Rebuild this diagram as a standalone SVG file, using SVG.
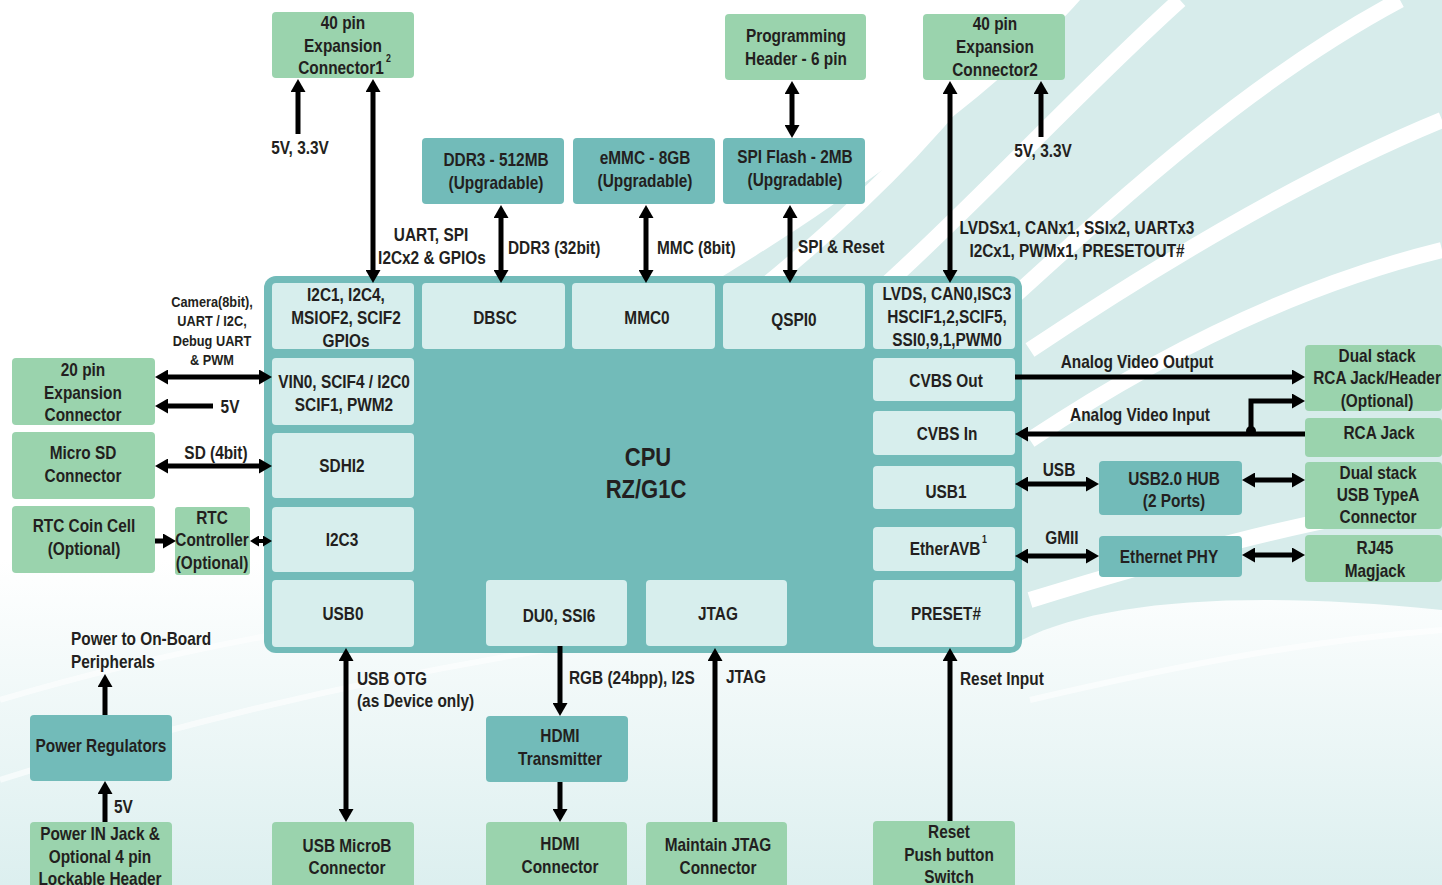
<svg xmlns="http://www.w3.org/2000/svg" width="1442" height="885" viewBox="0 0 1442 885">
<style>
.g{fill:#9ad3ad}
.t{fill:#72bbb9}
.c{fill:#d7eeed}
text{font-family:"Liberation Sans",Arial,sans-serif;font-weight:bold;fill:#231f20;font-size:17.5px;transform-box:fill-box;transform-origin:left center;transform:scaleX(0.88)}
.m{text-anchor:middle;transform-origin:center}
.s{font-size:14.5px}
.big{font-size:25px}
.sup{font-size:10px}
.w{fill:none;stroke:#000;stroke-width:5}
.ws{fill:none;stroke:#000;stroke-width:4}
</style>
<defs>
<marker id="a" markerUnits="userSpaceOnUse" markerWidth="13" markerHeight="15" viewBox="0 0 13 15" refX="1" refY="7.5" orient="auto-start-reverse"><path d="M0,0 L13,7.5 L0,15 z" fill="#000"/></marker>
<marker id="b" markerUnits="userSpaceOnUse" markerWidth="9" markerHeight="11" viewBox="0 0 9 11" refX="1" refY="5.5" orient="auto-start-reverse"><path d="M0,0 L9,5.5 L0,11 z" fill="#000"/></marker>
<linearGradient id="bg" x1="0" y1="0" x2="0" y2="1"><stop offset="0" stop-color="#ffffff"/><stop offset="1" stop-color="#dcefef"/></linearGradient>
</defs>
<g id="background">
<rect width="1442" height="885" fill="#fff"/>
<rect y="560" width="1442" height="325" fill="url(#bg)"/>
<path d="M700,290 C850,200 1000,90 1080,0 L1442,0 L1442,610 C1250,590 1100,600 1022,640 L1022,290 Z" fill="#d7eceb"/>
<g fill="none" stroke="#fff" stroke-width="16">
<path d="M760,290 C870,200 960,110 1030,0"/>
<path d="M880,290 C980,200 1080,90 1180,0"/>
<path d="M1010,300 C1120,200 1250,80 1400,0"/>
<path d="M1030,350 C1180,250 1320,170 1442,120"/>
<path d="M1030,440 C1180,340 1320,280 1442,250"/>
<path d="M1030,600 C1160,560 1300,520 1442,500"/>
</g>
<g fill="none" stroke="#fff" stroke-width="6" opacity="0.6">
<path d="M0,700 C200,640 400,610 600,590"/>
<path d="M0,780 C250,700 500,650 760,620"/>
<path d="M1030,700 C1200,660 1320,640 1442,630"/>
</g>
</g>
<g id="cpu">
<rect x="264" y="276" width="758" height="377" rx="12" class="t"/>
<text x="648" y="466" class="m big">CPU</text>
<text x="646" y="498" class="m big">RZ/G1C</text>
</g>
<g id="cell-i2c1"><rect x="272" y="283" width="142" height="66" rx="4" class="c"/><text x="346" y="301" class="m">I2C1, I2C4,</text><text x="346" y="324" class="m">MSIOF2, SCIF2</text><text x="346" y="347" class="m">GPIOs</text></g>
<g id="cell-dbsc"><rect x="422" y="283" width="143" height="66" rx="4" class="c"/><text x="495" y="324" class="m">DBSC</text></g>
<g id="cell-mmc0"><rect x="572" y="283" width="143" height="66" rx="4" class="c"/><text x="647" y="324" class="m">MMC0</text></g>
<g id="cell-qspi0"><rect x="723" y="283" width="142" height="66" rx="4" class="c"/><text x="794" y="326" class="m">QSPI0</text></g>
<g id="cell-lvds"><rect x="873" y="283" width="142" height="66" rx="4" class="c"/><text x="947" y="300" class="m">LVDS, CAN0,ISC3</text><text x="947" y="323" class="m">HSCIF1,2,SCIF5,</text><text x="947" y="346" class="m">SSI0,9,1,PWM0</text></g>
<g id="cell-vin0"><rect x="272" y="358" width="142" height="67" rx="4" class="c"/><text x="344" y="388" class="m">VIN0, SCIF4 / I2C0</text><text x="344" y="411" class="m">SCIF1, PWM2</text></g>
<g id="cell-sdhi2"><rect x="272" y="433" width="142" height="65" rx="4" class="c"/><text x="342" y="472" class="m">SDHI2</text></g>
<g id="cell-i2c3"><rect x="272" y="507" width="142" height="65" rx="4" class="c"/><text x="342" y="546" class="m">I2C3</text></g>
<g id="cell-usb0"><rect x="272" y="580" width="142" height="67" rx="4" class="c"/><text x="343" y="620" class="m">USB0</text></g>
<g id="cell-cvbsout"><rect x="873" y="358" width="142" height="43" rx="4" class="c"/><text x="946" y="387" class="m">CVBS Out</text></g>
<g id="cell-cvbsin"><rect x="873" y="411" width="142" height="44" rx="4" class="c"/><text x="947" y="440" class="m">CVBS In</text></g>
<g id="cell-usb1"><rect x="873" y="466" width="142" height="43" rx="4" class="c"/><text x="946" y="498" class="m">USB1</text></g>
<g id="cell-etheravb"><rect x="873" y="527" width="142" height="44" rx="4" class="c"/><text x="945" y="555" class="m">EtherAVB</text><text x="982" y="543" class="sup">1</text></g>
<g id="cell-preset"><rect x="873" y="580" width="142" height="67" rx="4" class="c"/><text x="946" y="620" class="m">PRESET#</text></g>
<g id="cell-du0"><rect x="486" y="580" width="141" height="66" rx="4" class="c"/><text x="559" y="622" class="m">DU0, SSI6</text></g>
<g id="cell-jtag"><rect x="646" y="580" width="141" height="66" rx="4" class="c"/><text x="718" y="620" class="m">JTAG</text></g>

<g id="conn1"><rect x="272" y="12" width="142" height="66" rx="4" class="g"/><text x="343" y="29" class="m">40 pin</text><text x="343" y="52" class="m">Expansion</text><text x="341" y="74" class="m">Connector1</text><text x="386" y="62" class="sup">2</text></g>
<g id="prog"><rect x="725" y="14" width="141" height="66" rx="4" class="g"/><text x="796" y="42" class="m">Programming</text><text x="796" y="65" class="m">Header - 6 pin</text></g>
<g id="conn2"><rect x="923" y="14" width="142" height="66" rx="4" class="g"/><text x="995" y="30" class="m">40 pin</text><text x="995" y="53" class="m">Expansion</text><text x="995" y="76" class="m">Connector2</text></g>
<g id="ddr3"><rect x="422" y="138" width="142" height="66" rx="4" class="t"/><text x="496" y="166" class="m">DDR3 - 512MB</text><text x="496" y="189" class="m">(Upgradable)</text></g>
<g id="emmc"><rect x="573" y="138" width="142" height="66" rx="4" class="t"/><text x="645" y="164" class="m">eMMC - 8GB</text><text x="645" y="187" class="m">(Upgradable)</text></g>
<g id="spiflash"><rect x="723" y="138" width="142" height="66" rx="4" class="t"/><text x="795" y="163" class="m">SPI Flash - 2MB</text><text x="795" y="186" class="m">(Upgradable)</text></g>
<g id="exp20"><rect x="12" y="358" width="143" height="67" rx="4" class="g"/><text x="83" y="376" class="m">20 pin</text><text x="83" y="399" class="m">Expansion</text><text x="83" y="421" class="m">Connector</text></g>
<g id="microsd"><rect x="12" y="432" width="143" height="67" rx="4" class="g"/><text x="83" y="459" class="m">Micro SD</text><text x="83" y="482" class="m">Connector</text></g>
<g id="rtccoin"><rect x="12" y="506" width="143" height="67" rx="4" class="g"/><text x="84" y="532" class="m">RTC Coin Cell</text><text x="84" y="555" class="m">(Optional)</text></g>
<g id="rtcctrl"><rect x="175" y="507" width="75" height="68" rx="3" class="g"/><text x="212" y="524" class="m">RTC</text><text x="212" y="546" class="m">Controller</text><text x="212" y="569" class="m">(Optional)</text></g>
<g id="rca-dual"><rect x="1305" y="345" width="137" height="66" rx="4" class="g"/><text x="1377" y="362" class="m">Dual stack</text><text x="1377" y="384" class="m">RCA Jack/Header</text><text x="1377" y="407" class="m">(Optional)</text></g>
<g id="rca"><rect x="1305" y="418" width="137" height="39" rx="4" class="g"/><text x="1379" y="439" class="m">RCA Jack</text></g>
<g id="usba"><rect x="1305" y="462" width="137" height="67" rx="4" class="g"/><text x="1378" y="479" class="m">Dual stack</text><text x="1378" y="501" class="m">USB TypeA</text><text x="1378" y="523" class="m">Connector</text></g>
<g id="rj45"><rect x="1305" y="535" width="137" height="47" rx="4" class="g"/><text x="1375" y="554" class="m">RJ45</text><text x="1375" y="577" class="m">Magjack</text></g>
<g id="usbhub"><rect x="1099" y="461" width="143" height="54" rx="4" class="t"/><text x="1174" y="485" class="m">USB2.0 HUB</text><text x="1174" y="507" class="m">(2 Ports)</text></g>
<g id="ethphy"><rect x="1099" y="536" width="143" height="41" rx="4" class="t"/><text x="1169" y="563" class="m">Ethernet PHY</text></g>
<g id="powerreg"><rect x="30" y="715" width="142" height="66" rx="4" class="t"/><text x="101" y="752" class="m">Power Regulators</text></g>
<g id="powerin"><rect x="30" y="822" width="142" height="70" rx="4" class="g"/><text x="100" y="840" class="m">Power IN Jack &amp;</text><text x="100" y="863" class="m">Optional 4 pin</text><text x="100" y="885" class="m">Lockable Header</text></g>
<g id="usbmicrob"><rect x="272" y="822" width="142" height="70" rx="4" class="g"/><text x="347" y="852" class="m">USB MicroB</text><text x="347" y="874" class="m">Connector</text></g>
<g id="hdmitx"><rect x="486" y="716" width="142" height="66" rx="4" class="t"/><text x="560" y="742" class="m">HDMI</text><text x="560" y="765" class="m">Transmitter</text></g>
<g id="hdmiconn"><rect x="486" y="822" width="141" height="70" rx="4" class="g"/><text x="560" y="850" class="m">HDMI</text><text x="560" y="873" class="m">Connector</text></g>
<g id="jtagconn"><rect x="646" y="822" width="141" height="70" rx="4" class="g"/><text x="718" y="851" class="m">Maintain JTAG</text><text x="718" y="874" class="m">Connector</text></g>
<g id="resetsw"><rect x="873" y="821" width="142" height="70" rx="4" class="g"/><text x="949" y="838" class="m">Reset</text><text x="949" y="861" class="m">Push button</text><text x="949" y="883" class="m">Switch</text></g>

<g id="connectors">
<path class="w" d="M298,134 V91" marker-end="url(#a)"/>
<path class="w" d="M373,91 V271" marker-start="url(#a)" marker-end="url(#a)"/>
<path class="w" d="M501,217 V271" marker-start="url(#a)" marker-end="url(#a)"/>
<path class="w" d="M646,217 V271" marker-start="url(#a)" marker-end="url(#a)"/>
<path class="w" d="M792,93 V126" marker-start="url(#a)" marker-end="url(#a)"/>
<path class="w" d="M790,217 V271" marker-start="url(#a)" marker-end="url(#a)"/>
<path class="w" d="M950,93 V271" marker-start="url(#a)" marker-end="url(#a)"/>
<path class="w" d="M1041,137 V93" marker-end="url(#a)"/>
<path class="w" d="M167,377 H260" marker-start="url(#a)" marker-end="url(#a)"/>
<path class="w" d="M213,406 H167" marker-end="url(#a)"/>
<path class="w" d="M167,466 H260" marker-start="url(#a)" marker-end="url(#a)"/>
<path class="w" d="M155,541 H164" marker-end="url(#a)"/>
<path class="ws" d="M258,541 H264" marker-start="url(#b)" marker-end="url(#b)"/>
<path class="w" d="M1015,377 H1293" marker-end="url(#a)"/>
<path class="w" d="M1305,434 H1027" marker-end="url(#a)"/>
<path class="w" d="M1251,434 V401 H1293" marker-end="url(#a)"/>
<circle cx="1251" cy="431" r="5" fill="#000"/>
<path class="w" d="M1027,484 H1087" marker-start="url(#a)" marker-end="url(#a)"/>
<path class="w" d="M1254,480 H1293" marker-start="url(#a)" marker-end="url(#a)"/>
<path class="w" d="M1027,556 H1087" marker-start="url(#a)" marker-end="url(#a)"/>
<path class="w" d="M1254,555 H1293" marker-start="url(#a)" marker-end="url(#a)"/>
<path class="w" d="M346,660 V810" marker-start="url(#a)" marker-end="url(#a)"/>
<path class="w" d="M560,646 V704" marker-end="url(#a)"/>
<path class="w" d="M560,782 V810" marker-end="url(#a)"/>
<path class="w" d="M715,822 V660" marker-end="url(#a)"/>
<path class="w" d="M950,821 V660" marker-end="url(#a)"/>
<path class="w" d="M105,715 V686" marker-end="url(#a)"/>
<path class="w" d="M105,822 V793" marker-end="url(#a)"/>
</g>
<g id="labels">
<text x="300" y="154" class="m">5V, 3.3V</text>
<text x="431" y="241" class="m">UART, SPI</text>
<text x="432" y="264" class="m">I2Cx2 &amp; GPIOs</text>
<text x="508" y="254">DDR3 (32bit)</text>
<text x="657" y="254">MMC (8bit)</text>
<text x="798" y="253">SPI &amp; Reset</text>
<text x="1077" y="234" class="m">LVDSx1, CANx1, SSIx2, UARTx3</text>
<text x="1077" y="257" class="m">I2Cx1, PWMx1, PRESETOUT#</text>
<text x="1043" y="157" class="m">5V, 3.3V</text>
<text x="212" y="307" class="m s">Camera(8bit),</text>
<text x="212" y="326" class="m s">UART / I2C,</text>
<text x="212" y="346" class="m s">Debug UART</text>
<text x="212" y="365" class="m s">&amp; PWM</text>
<text x="230" y="413" class="m">5V</text>
<text x="216" y="459" class="m">SD (4bit)</text>
<text x="1137" y="368" class="m">Analog Video Output</text>
<text x="1140" y="421" class="m">Analog Video Input</text>
<text x="1059" y="476" class="m">USB</text>
<text x="1062" y="544" class="m">GMII</text>
<text x="71" y="645">Power to On-Board</text>
<text x="71" y="668">Peripherals</text>
<text x="114" y="813">5V</text>
<text x="357" y="685">USB OTG</text>
<text x="357" y="707">(as Device only)</text>
<text x="569" y="684">RGB (24bpp), I2S</text>
<text x="726" y="683">JTAG</text>
<text x="960" y="685">Reset Input</text>
</g>
</svg>
